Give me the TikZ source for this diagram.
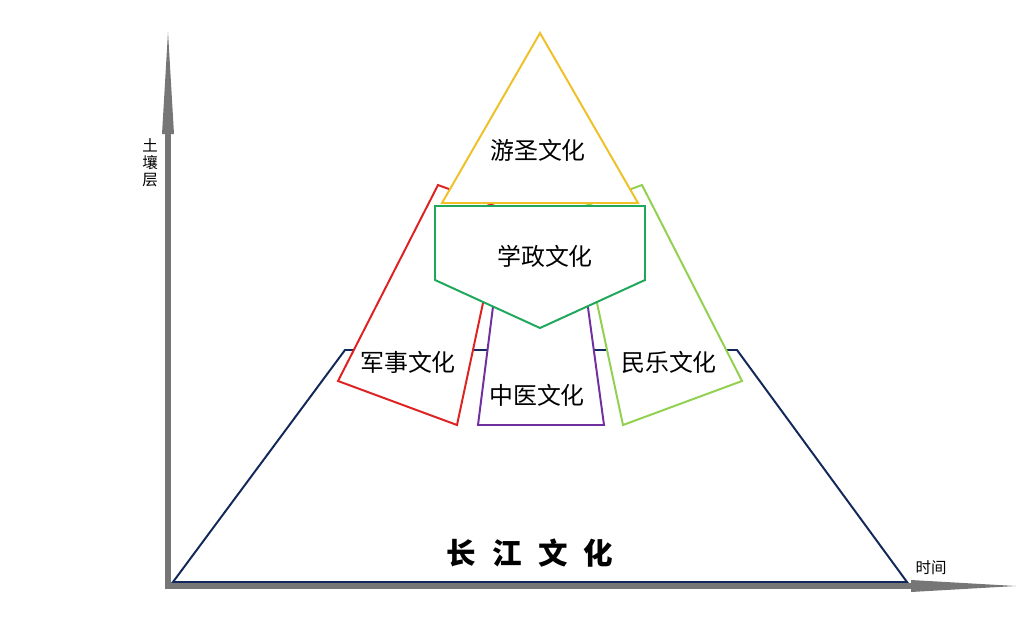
\documentclass[tikz,border=0pt]{standalone}
\usepackage{fontspec}
\setmainfont{Noto Sans CJK SC}

\definecolor{axisgray}{RGB}{118,118,118}
\definecolor{navy}{RGB}{18,40,90}
\definecolor{goldline}{RGB}{240,192,40}
\definecolor{redline}{RGB}{222,34,34}
\definecolor{limeline}{RGB}{146,208,80}
\definecolor{greenline}{RGB}{30,168,92}
\definecolor{purpleline}{RGB}{112,48,160}

\begin{document}
\begin{tikzpicture}[%
    x=0.025cm, y=-0.025cm,      % work in pixels of the sketch, y going down
    ]
% -------------------------------------------------
% A few styles
\tikzset{
  axis/.style={draw=axisgray, line width=3.6pt},
  head/.style={fill=axisgray},
  layer/.style={line width=1.4pt, fill=white, line join=miter},
  label/.style={font=\fontsize{17}{20}\selectfont, inner sep=0pt},
  big/.style={font=\fontsize{21}{24}\selectfont\bfseries, inner sep=0pt},
  small/.style={font=\fontsize{11}{13}\selectfont, inner sep=0pt, align=center},
}
\useasboundingbox (0,0) rectangle (1034,621);
% -------------------------------------------------
% Axes, with long slim heads
\draw [axis] (168,589) -- (168,130);
\fill [head] (162,134) -- (168,32) -- (174,134) -- cycle;
\draw [axis] (165,586) -- (915,586);
\fill [head] (911,580) -- (1016,586) -- (911,592) -- cycle;
\node [small] (soil) at (150,163) {土\\[-1pt]壤\\[-1pt]层};
\node [small] (time) at (931,568) {时间};

% Layers, from the bottom one up
\draw [layer, draw=navy] (173,582) -- (345,350) -- (737,350) -- (907,582) -- cycle;
\draw [layer, draw=redline] (438,185) -- (338,381) -- (457,425) -- (503,209) -- cycle;
\draw [layer, draw=limeline] (642,185) -- (742,381) -- (623,425) -- (577,209) -- cycle;
\draw [layer, draw=purpleline] (478,425) -- (505,212) -- (575,212) -- (604,425) -- cycle;
\draw [layer, draw=goldline] (540,33) -- (442,203) -- (638,203) -- cycle;
\draw [layer, draw=greenline] (435,206) -- (645,206) -- (645,280) -- (540,328)
  -- (435,280) -- cycle;

% -------------------------------------------------
% Names of the layers
\node [label] (yousheng) at (538,150) {游圣文化};
\node [label] (xuezheng) at (545,256) {学政文化};
\node [label] (junshi) at (408,362) {军事文化};
\node [label] (minyue) at (669,362) {民乐文化};
\node [label] (zhongyi) at (537,395) {中医文化};
\node [big] (changjiang) at (530,553) {\spaceskip=0.55em 长 江 文 化};
% -------------------------------------------------
\end{tikzpicture}
\end{document}
